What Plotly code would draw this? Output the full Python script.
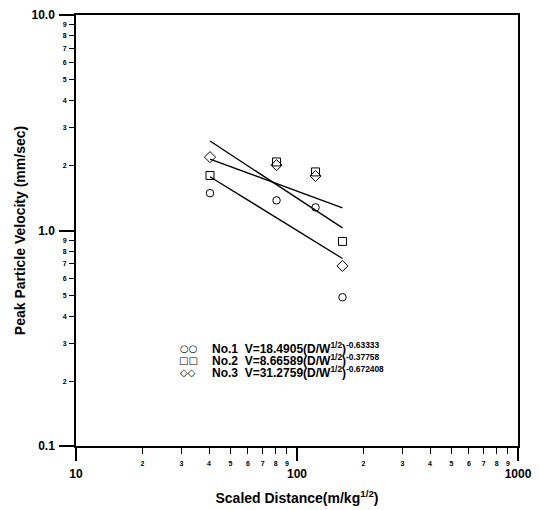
import plotly.graph_objects as go

# ---------------- data ----------------
scaled_distance = [40.4, 80.8, 121.3, 160.6]
ppv_no1 = [1.49, 1.38, 1.28, 0.49]
ppv_no2 = [1.80, 2.08, 1.87, 0.89]
ppv_no3 = [2.19, 2.01, 1.79, 0.685]
series_names = ["No.1", "No.2", "No.3"]
coef_k = [18.4905, 8.66589, 31.2759]
coef_n = [-0.63333, -0.37758, -0.672408]
coef_n_text = ["-0.63333", "-0.37758", "-0.672408"]
legend_glyphs = ["○○", "□□", "◇◇"]

x_major_vals = [10, 100, 1000]
x_major_text = ["10", "100", "1000"]
x_minor_vals = [20, 30, 40, 50, 60, 70, 80, 90, 200, 300, 400, 500, 600, 700, 800, 900]
x_minor_text = ["2", "3", "4", "5", "6", "7", "8", "9"] * 2
y_major_vals = [0.1, 1, 10]
y_major_text = ["0.1", "1.0", "10.0"]
y_minor_vals = [0.2, 0.3, 0.4, 0.5, 0.6, 0.7, 0.8, 0.9, 2, 3, 4, 5, 6, 7, 8, 9]
y_minor_text = ["2", "3", "4", "5", "6", "7", "8", "9"] * 2

x_title = "Scaled Distance(m/kg<sup>1/2</sup>)"
y_title = "Peak Particle Velocity (mm/sec)"

# ---------------- figure ----------------
FONT = "Liberation Sans, Arial, sans-serif"
symbols = ["circle-open", "square-open", "diamond-open"]
sizes = [7.5, 8, 8.5]
series_vals = [ppv_no1, ppv_no2, ppv_no3]

fig = go.Figure()
x_ends = [min(scaled_distance), max(scaled_distance)]
for k, n in zip(coef_k, coef_n):
    fig.add_trace(go.Scatter(
        x=x_ends, y=[k * xv ** n for xv in x_ends], mode="lines",
        line=dict(color="black", width=1.3), showlegend=False, hoverinfo="skip"))
for name, vals, sym, sz in zip(series_names, series_vals, symbols, sizes):
    fig.add_trace(go.Scatter(
        x=scaled_distance, y=vals, mode="markers", name=name,
        marker=dict(symbol=sym, size=sz, color="black", line=dict(width=1)),
        showlegend=False))

# invisible trace to activate overlay axes (minor tick labels)
fig.add_trace(go.Scatter(x=[10], y=[1], xaxis="x2", yaxis="y2", mode="markers",
                         marker=dict(opacity=0), showlegend=False, hoverinfo="skip"))

major_font = dict(family=FONT, size=12, color="black", weight="bold")
minor_font = dict(family=FONT, size=7, color="black", weight="bold")

# page body adds an 8px margin, so the figure is 8px smaller on each side
fig.update_layout(
    width=532, height=502,
    margin=dict(l=68, r=22, t=7, b=64),
    paper_bgcolor="white", plot_bgcolor="white",
    font=dict(family=FONT, color="black"),
    xaxis=dict(
        type="log", range=[1, 3], showgrid=False, zeroline=False, automargin=False,
        showline=True, linecolor="black", linewidth=1.5, mirror=True,
        ticks="outside", ticklen=13, tickwidth=1.5, tickcolor="black",
        tickmode="array", tickvals=x_major_vals, ticktext=x_major_text,
        tickfont=major_font, ticklabelstandoff=3, ticklabeloverflow="allow",
        title=dict(text=x_title, font=dict(family=FONT, size=14, color="black", weight="bold"),
                   standoff=13),
    ),
    xaxis2=dict(
        type="log", range=[1, 3], overlaying="x", anchor="y", side="bottom",
        showgrid=False, zeroline=False, showline=False, automargin=False,
        ticks="outside", ticklen=7, tickwidth=1.3, tickcolor="black",
        tickmode="array", tickvals=x_minor_vals, ticktext=x_minor_text,
        tickfont=minor_font, ticklabelstandoff=4, ticklabeloverflow="allow",
    ),
    yaxis=dict(
        type="log", range=[-1, 1], showgrid=False, zeroline=False, automargin=False,
        showline=True, linecolor="black", linewidth=1.5, mirror=True,
        ticks="outside", ticklen=15, tickwidth=1.5, tickcolor="black",
        tickmode="array", tickvals=y_major_vals, ticktext=y_major_text,
        tickfont=major_font, ticklabelstandoff=2, ticklabeloverflow="allow",
        title=dict(text=y_title, font=dict(family=FONT, size=14, color="black", weight="bold"),
                   standoff=3),
    ),
    yaxis2=dict(
        type="log", range=[-1, 1], overlaying="y", anchor="x", side="left",
        showgrid=False, zeroline=False, showline=False, automargin=False,
        ticks="outside", ticklen=6, tickwidth=1.3, tickcolor="black",
        tickmode="array", tickvals=y_minor_vals, ticktext=y_minor_text,
        tickfont=minor_font, ticklabelstandoff=1, ticklabeloverflow="allow",
    ),
)

# legend drawn as annotations (two symbols per entry, as in the original)
row_y = [0.227, 0.1986, 0.1716]
for glyph, name, k, nt, ry in zip(legend_glyphs, series_names, coef_k, coef_n_text, row_y):
    fig.add_annotation(xref="paper", yref="paper", x=0.2534, y=ry, text=glyph,
                       showarrow=False, xanchor="center", yanchor="middle",
                       font=dict(family="DejaVu Sans", size=10, color="black"))
    fig.add_annotation(
        xref="paper", yref="paper", x=0.303, y=ry, xanchor="left", yanchor="middle",
        showarrow=False,
        text=f"{name}  V={k}(D/W<sup>1/2</sup>)<sup>{nt}</sup>",
        font=dict(family=FONT, size=12, color="black", weight="bold"))

fig.write_html("out.html")
